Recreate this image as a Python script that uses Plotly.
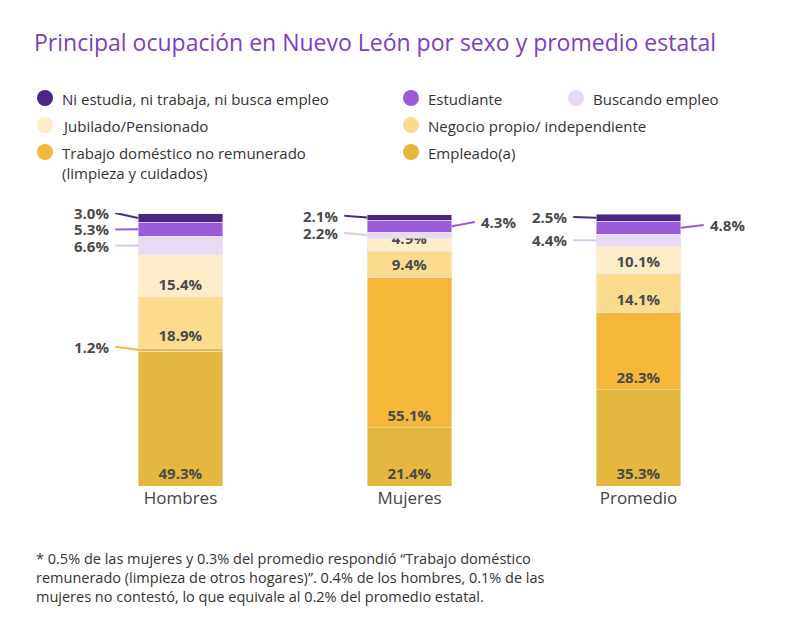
import plotly.graph_objects as go

cats = ["Hombres", "Mujeres", "Promedio"]
series = ["Empleado(a)", "Trabajo doméstico no remunerado<br>(limpieza y cuidados)", "Negocio propio/ independiente",
          "Jubilado/Pensionado", "Buscando empleo", "Estudiante", "Ni estudia, ni trabaja, ni busca empleo"]
empleado = [49.3, 21.4, 35.3]
domestico = [1.2, 55.1, 28.3]
negocio = [18.9, 9.4, 14.1]
jubilado = [15.4, 4.9, 10.1]
buscando = [6.6, 2.2, 4.4]
estudiante = [5.3, 4.3, 4.8]
ni = [3.0, 2.1, 2.5]
values = [empleado, domestico, negocio, jubilado, buscando, estudiante, ni]
colors = ["#e4b73f", "#f5b83a", "#fbdc8e", "#fdedc8", "#e8d9f4", "#9a5bd8", "#4a2785"]

outside = [(6, 0, "L", 100), (5, 0, "L", 94), (4, 0, "L", 88), (1, 0, "L", 51),
           (6, 1, "L", 99), (4, 1, "L", 92.7), (5, 1, "R", 96.7),
           (6, 2, "L", 98.5), (4, 2, "L", 90), (5, 2, "R", 95.6)]
out_set = {(s, c) for s, c, _, _ in outside}

# pixel -> paper helpers (plot area: x 58..745, y 205..478)
def px2x(px): return (px - 58) / 687
def py2y(py): return (478 - py) / 273

fig = go.Figure()
for i, (name, vals, col) in enumerate(zip(series, values, colors)):
    txt = ["" if (i, j) in out_set else f"<b>{v:.1f}%</b>" for j, v in enumerate(vals)]
    fig.add_trace(go.Bar(x=[0, 1, 2], y=vals, marker_color=col, width=0.37, text=txt,
                         textposition="inside", insidetextanchor="start", textangle=0,
                         constraintext="none", cliponaxis=False,
                         textfont=dict(size=15, color="#4a4a4a", family="Open Sans"),
                         hoverinfo="skip", showlegend=False))

bw = 0.37 / 2
for s, c, side, ly in outside:
    base = sum(values[k][c] for k in range(s))
    mid = base + values[s][c] / 2
    col = colors[s] if s != 4 else "#d9c8ec"
    if side == "L":
        x0, x1 = c - bw, c - bw - 0.1
        fig.add_shape(type="line", x0=x0, y0=mid, x1=x1, y1=ly, line=dict(color=col, width=2))
        fig.add_annotation(x=x1 - 0.02, y=ly, text=f"<b>{values[s][c]:.1f}%</b>", showarrow=False,
                           xanchor="right", font=dict(size=15, color="#4a4a4a", family="Open Sans"))
    else:
        x0, x1 = c + bw, c + bw + 0.1
        fig.add_shape(type="line", x0=x0, y0=mid, x1=x1, y1=ly, line=dict(color=col, width=2))
        fig.add_annotation(x=x1 + 0.02, y=ly, text=f"<b>{values[s][c]:.1f}%</b>", showarrow=False,
                           xanchor="left", font=dict(size=15, color="#4a4a4a", family="Open Sans"))

leg = [(6, 37, 90), (5, 403, 90), (4, 568, 90), (3, 37, 117), (2, 403, 117), (1, 37, 144), (0, 403, 144)]
for s, px, py in leg:
    fig.add_shape(type="circle", xref="paper", yref="paper",
                  x0=px2x(px - 8), x1=px2x(px + 8), y0=py2y(py + 8), y1=py2y(py - 8),
                  fillcolor=colors[s], line=dict(width=0))
    fig.add_annotation(xref="paper", yref="paper", x=px2x(px + 15), y=py2y(py - 11),
                       text=series[s], showarrow=False, xanchor="left", yanchor="top", align="left",
                       font=dict(size=15, color="#333", family="Open Sans"))

fig.add_annotation(xref="paper", yref="paper", x=px2x(26), y=py2y(569), yanchor="middle", xanchor="left",
                   align="left", showarrow=False,
                   text="* 0.5% de las mujeres y 0.3% del promedio respondió “Trabajo doméstico<br>"
                        "remunerado (limpieza de otros hogares)”. 0.4% de los hombres, 0.1% de las<br>"
                        "mujeres no contestó, lo que equivale al 0.2% del promedio estatal.",
                   font=dict(size=14.5, color="#333", family="Open Sans"))

fig.update_layout(
    width=800, height=619, barmode="stack", plot_bgcolor="white", paper_bgcolor="white",
    margin=dict(l=58, r=55, t=205, b=141),
    uniformtext=dict(minsize=15, mode="show"),
    title=dict(text="Principal ocupación en Nuevo León por sexo y promedio estatal", x=26 / 800, y=1 - 35 / 619,
               xanchor="left", yanchor="middle", font=dict(size=23, color="#7a3fc4", family="Open Sans")),
    xaxis=dict(range=[-0.5, 2.5], tickvals=[0, 1, 2], ticktext=cats, showgrid=False, zeroline=False,
               showline=False, tickfont=dict(size=17, color="#444", family="Open Sans"), ticks=""),
    yaxis=dict(range=[0, 100], visible=False),
)
fig.write_html("out.html")
